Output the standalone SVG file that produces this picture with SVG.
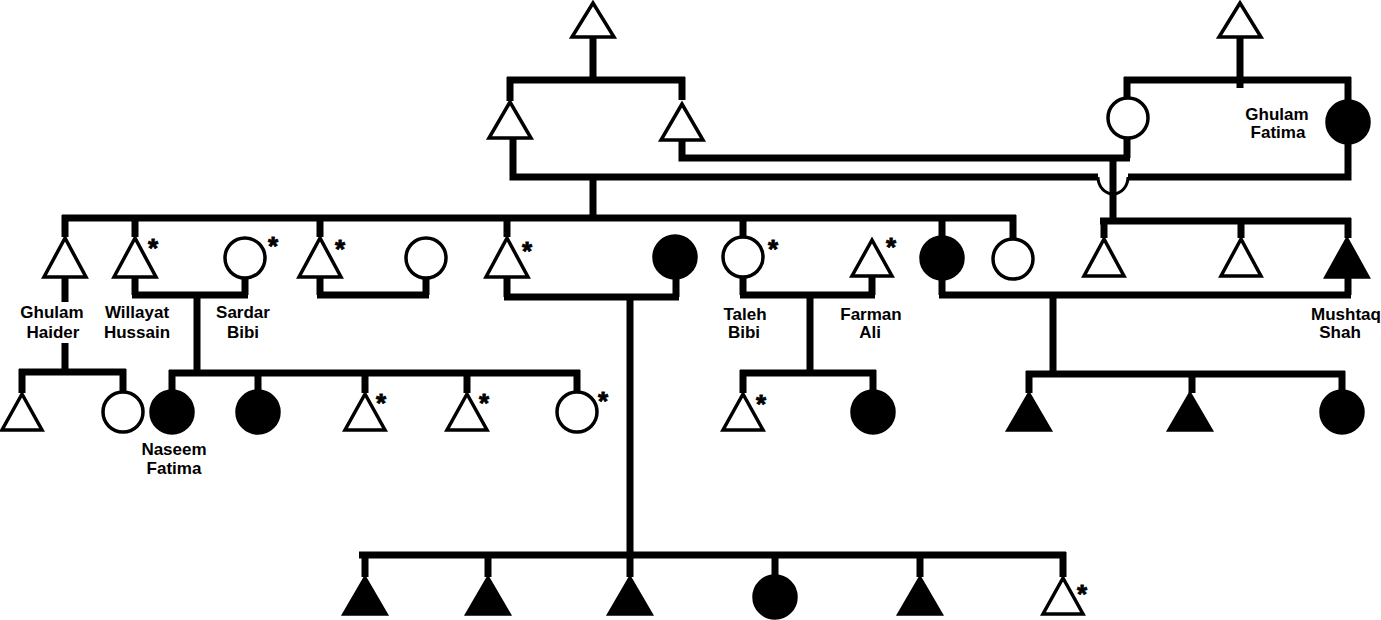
<svg xmlns="http://www.w3.org/2000/svg" width="1381" height="620" viewBox="0 0 1381 620">
<style>
.ln{stroke:#000;stroke-width:7;fill:none;stroke-linecap:butt}
.hop{stroke:#000;stroke-width:3;fill:none}
.o{fill:#fff;stroke:#000;stroke-width:3.5}
.f{fill:#000;stroke:#000;stroke-width:3.5}
.lb{font-family:"Liberation Sans",Arial,sans-serif;font-weight:bold;font-size:17px;text-anchor:middle;fill:#000}
.st{font-family:"Liberation Sans",Arial,sans-serif;font-weight:bold;font-size:26px;text-anchor:middle;fill:#000;stroke:#000;stroke-width:0.8}
</style>
<rect width="1381" height="620" fill="#fff"/>
<g id="connectors">
<path class="ln" d="M593 37V80M507 80H685M510 77V101M682 77V100"/>
<path class="ln" d="M1240 37V88M1124 80H1351M1127 77V98M1348 77V100"/>
<path class="ln" d="M513 138V177H1098M1128 177H1348V144"/>
<path class="hop" d="M1098 177A15 17 0 0 0 1128 177"/>
<path class="ln" d="M682 140V158H1130M1127 138V158M1113 155V222M1100 221H1351M1104 218V238M1241 218V238M1348 218V238"/>
<path class="ln" d="M593 177V218M62 218H1016M65 215V237M135 215V237M320 215V237M507 215V237M743 215V237M942 215V236M1013 215V239"/>
<path class="ln" d="M65 277V302M65 343V372M19 372H126M22 369V393M123 369V392"/>
<path class="ln" d="M135 277V295M245 278V295M132 295H248M197 295V373M169 373H580M172 370V390M258 370V390M365 370V393M467 370V393M577 370V392"/>
<path class="ln" d="M320 277V295M426 278V295M317 295H429"/>
<path class="ln" d="M507 277V297M676 279V297M504 297H679M630 297V555M359 555H1066M365 552V577M488 552V577M630 552V577M775 552V575M920 552V577M1063 552V577"/>
<path class="ln" d="M743 277V295M872 276V295M740 295H875M810 295V373M740 373H876M743 370V393M873 370V390"/>
<path class="ln" d="M942 280V295M1348 277V295M939 295H1351M1053 295V374M1026 374H1345M1029 371V393M1192 371V393M1342 371V390"/>
</g>
<g id="gen1">
<g id="n-top1"><polygon class="o" points="593,3 572,37 614,37"/></g>
<g id="n-top2"><polygon class="o" points="1240,3 1219,37 1261,37"/></g>
</g>
<g id="gen2">
<g id="n-a"><polygon class="o" points="510,102 489,138 531,138"/></g>
<g id="n-b"><polygon class="o" points="682,104 661,140 703,140"/></g>
<g id="n-c"><circle class="o" cx="1128" cy="118" r="20"/></g>
<g id="n-ghulam-fatima"><circle class="f" cx="1348" cy="122" r="21"/><text class="lb" x="1277" y="120">Ghulam</text><text class="lb" x="1278" y="138">Fatima</text></g>
</g>
<g id="gen3">
<g id="n-ghulam-haider"><polygon class="o" points="65,238 44,277 86,277"/><text class="lb" x="52" y="318">Ghulam</text><text class="lb" x="53" y="338">Haider</text></g>
<g id="n-willayat"><polygon class="o" points="135,238 114,277 156,277"/><text class="st" x="153" y="257">*</text><text class="lb" x="137" y="318">Willayat</text><text class="lb" x="137" y="338">Hussain</text></g>
<g id="n-sardar"><circle class="o" cx="245" cy="258" r="20"/><text class="st" x="273" y="255">*</text><text class="lb" x="243" y="318">Sardar</text><text class="lb" x="243" y="338">Bibi</text></g>
<g id="n-g3-4"><polygon class="o" points="320,238 299,277 341,277"/><text class="st" x="340" y="258">*</text></g>
<g id="n-g3-5"><circle class="o" cx="426" cy="258" r="20"/></g>
<g id="n-g3-6"><polygon class="o" points="507,238 486,277 528,277"/><text class="st" x="527" y="260">*</text></g>
<g id="n-g3-7"><circle class="f" cx="675" cy="257" r="21"/></g>
<g id="n-taleh"><circle class="o" cx="743" cy="257" r="20"/><text class="st" x="773" y="258">*</text><text class="lb" x="745" y="320">Taleh</text><text class="lb" x="744" y="338">Bibi</text></g>
<g id="n-farman"><polygon class="o" points="872,240 852,276 892,276"/><text class="st" x="891" y="256">*</text><text class="lb" x="871" y="320">Farman</text><text class="lb" x="870" y="338">Ali</text></g>
<g id="n-g3-10"><circle class="f" cx="942" cy="258" r="21"/></g>
<g id="n-g3-11"><circle class="o" cx="1013" cy="259" r="20"/></g>
<g id="n-g3-12"><polygon class="o" points="1104,239 1084,276 1124,276"/></g>
<g id="n-g3-13"><polygon class="o" points="1241,239 1221,276 1261,276"/></g>
<g id="n-mushtaq"><polygon class="f" points="1347,239 1326,277 1368,277"/><text class="lb" x="1346" y="320">Mushtaq</text><text class="lb" x="1340" y="338">Shah</text></g>
</g>
<g id="gen4">
<g id="n-g4-1"><polygon class="o" points="22,394 2,430 42,430"/></g>
<g id="n-g4-2"><circle class="o" cx="123" cy="412" r="20"/></g>
<g id="n-naseem"><circle class="f" cx="172" cy="412" r="21"/><text class="lb" x="174" y="455">Naseem</text><text class="lb" x="174" y="474">Fatima</text></g>
<g id="n-g4-4"><circle class="f" cx="258" cy="412" r="21"/></g>
<g id="n-g4-5"><polygon class="o" points="365,394 345,430 385,430"/><text class="st" x="381" y="412">*</text></g>
<g id="n-g4-6"><polygon class="o" points="467,394 447,430 487,430"/><text class="st" x="484" y="412">*</text></g>
<g id="n-g4-7"><circle class="o" cx="577" cy="412" r="20"/><text class="st" x="603" y="410">*</text></g>
<g id="n-g4-8"><polygon class="o" points="743,394 723,430 763,430"/><text class="st" x="761" y="413">*</text></g>
<g id="n-g4-9"><circle class="f" cx="873" cy="412" r="21"/></g>
<g id="n-g4-10"><polygon class="f" points="1029,394 1008,430 1050,430"/></g>
<g id="n-g4-11"><polygon class="f" points="1190,394 1169,430 1211,430"/></g>
<g id="n-g4-12"><circle class="f" cx="1342" cy="412" r="21"/></g>
</g>
<g id="gen5">
<g id="n-g5-1"><polygon class="f" points="365,578 344,614 386,614"/></g>
<g id="n-g5-2"><polygon class="f" points="488,578 467,614 509,614"/></g>
<g id="n-g5-3"><polygon class="f" points="630,578 609,614 651,614"/></g>
<g id="n-g5-4"><circle class="f" cx="775" cy="597" r="21"/></g>
<g id="n-g5-5"><polygon class="f" points="920,578 899,614 941,614"/></g>
<g id="n-g5-6"><polygon class="o" points="1063,578 1043,614 1083,614"/><text class="st" x="1082" y="603">*</text></g>
</g>
</svg>
